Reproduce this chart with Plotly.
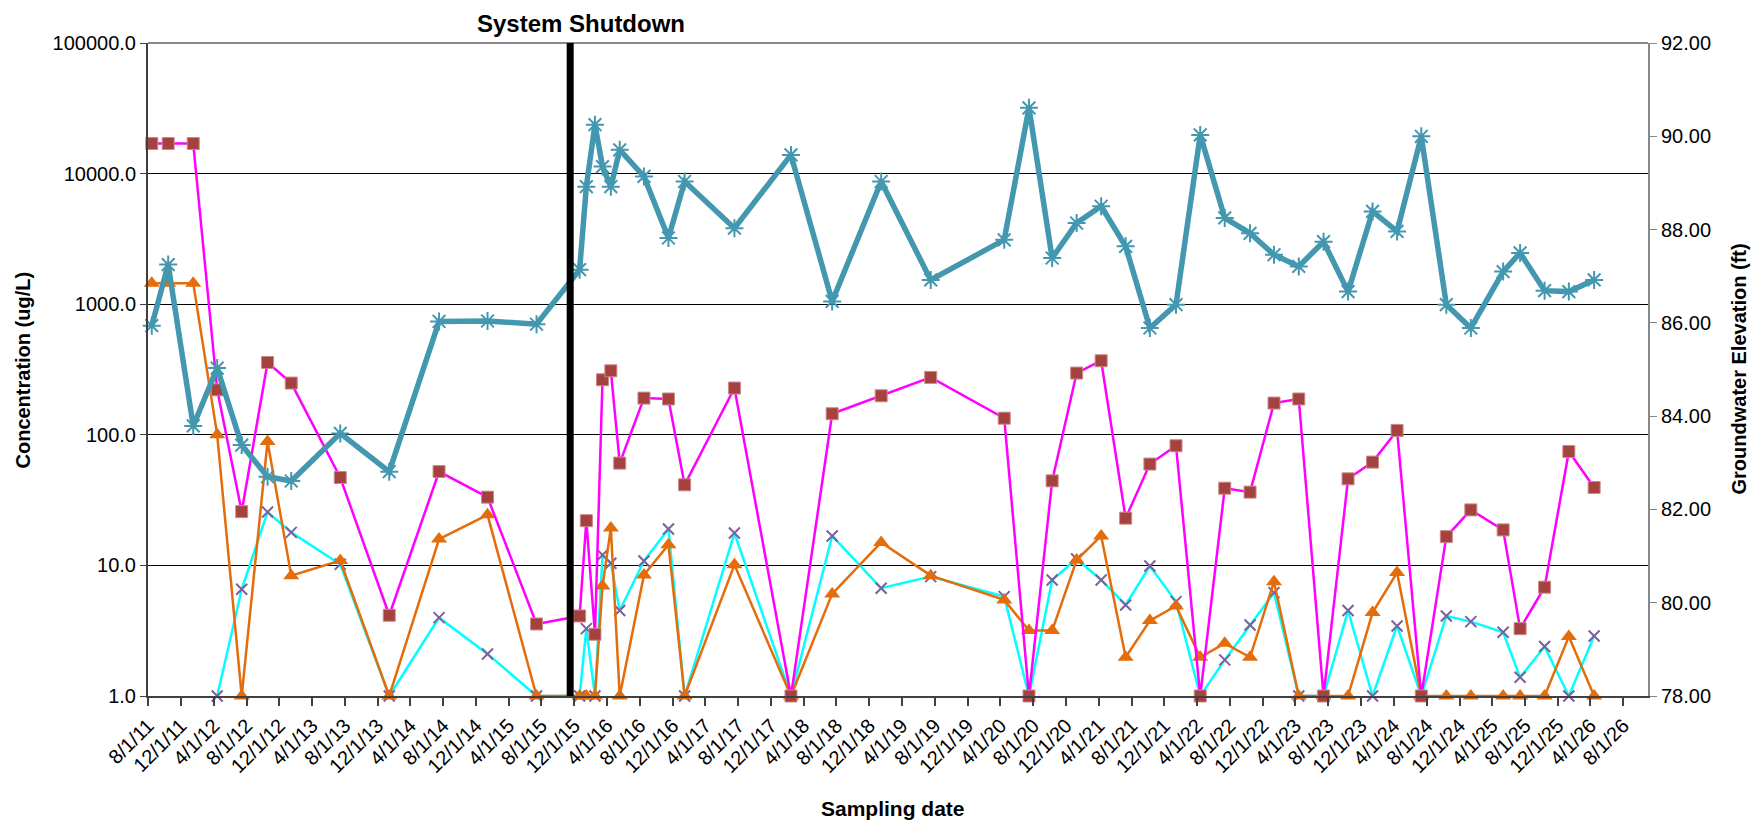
import plotly.graph_objects as go

# ---- data ----
dates = [
    "2011-08-15", "2011-10-15", "2012-01-16", "2012-04-14", "2012-07-14", "2012-10-18",
    "2013-01-14", "2013-07-15", "2014-01-13", "2014-07-17", "2015-01-13", "2015-07-14",
    "2015-12-21", "2016-01-15", "2016-02-16", "2016-03-15", "2016-04-15", "2016-05-18",
    "2016-08-16", "2016-11-15", "2017-01-14", "2017-07-18", "2018-02-13", "2018-07-16",
    "2019-01-14", "2019-07-17", "2020-04-15", "2020-07-16", "2020-10-10", "2021-01-09",
    "2021-04-10", "2021-07-10", "2021-10-08", "2022-01-13", "2022-04-13", "2022-07-13",
    "2022-10-15", "2023-01-12", "2023-04-14", "2023-07-15", "2023-10-14", "2024-01-13",
    "2024-04-13", "2024-07-12", "2024-10-13", "2025-01-12", "2025-05-12", "2025-07-14",
    "2025-10-13", "2026-01-11", "2026-04-15",
]

groundwater_elev = [
    85.94, 87.25, 83.79, 85.03, 83.38, 82.70, 82.61, 83.63, 82.81, 86.03, 86.04, 85.97,
    87.14, 88.92, 90.25, 89.35, 88.92, 89.71, 89.14, 87.82, 89.03, 88.03, 89.60, 86.46,
    89.03, 86.92, 87.78, 90.61, 87.39, 88.14, 88.50, 87.64, 85.89, 86.39, 90.03, 88.25,
    87.92, 87.46, 87.21, 87.74, 86.67, 88.39, 87.96, 90.00, 86.39, 85.89, 87.10, 87.50,
    86.69, 86.67, 86.92,
]

magenta_conc = [
    17000, 17000, 17000, 221, 25.8, 358, 249, 47.1, 4.15, 52.3, 33.3, 3.56,
    4.10, 22.0, 2.97, 264, 309, 60.7, 191, 188, 41.4, 228, 1.0, 145,
    199, 275, 134, 1.0, 44.4, 297, 369, 23.0, 59.7, 82.4, 1.0, 39.0,
    36.4, 175, 188, 1.0, 46.0, 61.8, 108, 1.0, 16.6, 26.6, 18.7, 3.28,
    6.81, 74.5, 39.5,
]

cyan_conc = [
    None, None, None, 1.0, 6.57, 25.6, 17.9, 10.2, 1.0, 3.98, 2.10, 1.0,
    1.0, 3.28, 1.0, 12.0, 10.4, 4.51, 10.8, 19.0, 1.0, 17.7, 1.0, 16.8,
    6.69, 8.21, 5.77, 1.0, 7.74, 11.2, 7.74, 4.98, 9.9, 5.28, 1.0, 1.89,
    3.50, 6.19, 1.0, 1.0, 4.51, 1.0, 3.44, 1.0, 4.10, 3.71, 3.08, 1.39,
    2.39, 1.0, 2.88,
]

orange_conc = [
    1450, 1450, 1450, 100, 1.0, 88.9, 8.35, 10.9, 1.0, 15.9, 24.4, 1.0,
    1.0, 1.0, 1.0, 6.96, 19.3, 1.0, 8.46, 14.4, 1.0, 10.1, 1.0, 6.05,
    15.0, 8.35, 5.44, 3.17, 3.17, 11.0, 16.8, 1.98, 3.78, 4.89, 1.98, 2.53,
    1.98, 7.51, 1.0, 1.0, 1.0, 4.35, 8.81, 1.0, 1.0, 1.0, 1.0, 1.0,
    1.0, 2.85, 1.0,
]

conc_tickvals = [1, 10, 100, 1000, 10000, 100000]
conc_ticktext = ["1.0", "10.0", "100.0", "1000.0", "10000.0", "100000.0"]
shutdown_date = "2015-11-16"
x_range = ["2011-08-01", "2026-11-01"]

FONT = "Liberation Sans, Arial, sans-serif"

# page body has an 8px default margin; compensate so the plot area lands
# at x 148..1648, y 43..696 of the window
OFF = 8
FIG_W, FIG_H = 1760 - OFF, 825 - OFF
L, R, T, B = 148 - OFF, 112, 43 - OFF, 129
PW, PH = 1500, 653

fig = go.Figure()

fig.add_trace(go.Scatter(
    x=dates, y=cyan_conc, mode="lines+markers", name="cyan",
    line=dict(color="#00FFFF", width=2.5),
    marker=dict(symbol="x-thin-open", size=11, line=dict(color="#7D5F9B", width=2), color="#7D5F9B"),
    cliponaxis=False, connectgaps=False,
))
fig.add_trace(go.Scatter(
    x=dates, y=orange_conc, mode="lines+markers", name="orange",
    line=dict(color="#E46C0A", width=2.5),
    marker=dict(symbol="triangle-up", size=14, color="#E46C0A"),
    cliponaxis=False,
))
fig.add_trace(go.Scatter(
    x=dates, y=magenta_conc, mode="lines+markers", name="magenta",
    line=dict(color="#FF00FF", width=2.5),
    marker=dict(symbol="square", size=12, color="#A5423F", line=dict(color="#C98A88", width=1)),
    cliponaxis=False,
))
fig.add_trace(go.Scatter(
    x=dates, y=groundwater_elev, mode="lines+markers", name="Groundwater Elevation",
    yaxis="y2",
    line=dict(color="#4398B0", width=5.5),
    marker=dict(symbol="asterisk-open", size=15, line=dict(color="#4398B0", width=2), color="#4398B0"),
    cliponaxis=False,
))

fig.update_layout(
    width=FIG_W, height=FIG_H, autosize=False,
    paper_bgcolor="white", plot_bgcolor="white",
    margin=dict(l=L, r=R, t=T, b=B),
    showlegend=False,
    font=dict(family=FONT, size=20, color="black"),
    xaxis=dict(
        type="date", range=x_range, tick0="2011-08-01", dtick="M4",
        tickformat="%-m/%-d/%y", tickangle=-45,
        ticks="outside", ticklen=8, tickwidth=1.5, tickcolor="#404040",
        showline=True, linecolor="#404040", linewidth=2,
        showgrid=False, zeroline=False,
        tickfont=dict(family=FONT, size=20, color="black"),
    ),
    yaxis=dict(
        type="log", range=[0, 5],
        tickvals=conc_tickvals, ticktext=conc_ticktext,
        ticks="outside", ticklen=6, tickcolor="#404040",
        showline=True, linecolor="#404040", linewidth=2,
        showgrid=True, gridcolor="black", gridwidth=1,
        zeroline=False,
        tickfont=dict(family=FONT, size=20, color="black"),
    ),
    yaxis2=dict(
        overlaying="y", side="right", range=[78, 92], dtick=2, tick0=78,
        tickformat=".2f",
        ticks="outside", ticklen=7, tickcolor="#888888",
        showline=True, linecolor="#888888", linewidth=2,
        showgrid=False, zeroline=False,
        tickfont=dict(family=FONT, size=20, color="black"),
    ),
    shapes=[
        dict(type="line", xref="paper", yref="paper", x0=0, x1=1, y0=1, y1=1,
             line=dict(color="#888888", width=2)),
        dict(type="line", xref="x", yref="paper", x0=shutdown_date, x1=shutdown_date,
             y0=0, y1=1, line=dict(color="black", width=7)),
    ],
    annotations=[
        dict(text="<b>System Shutdown</b>", xref="paper", yref="paper",
             x=(581 - 148) / PW, y=1 + T / PH, xanchor="center", yanchor="top",
             showarrow=False, font=dict(family=FONT, size=24, color="black")),
        dict(text="<b>Concentration (ug/L)</b>", xref="paper", yref="paper",
             x=(22 - 148) / PW, y=0.5, xanchor="center", yanchor="middle",
             textangle=-90, showarrow=False, font=dict(family=FONT, size=20, color="black")),
        dict(text="<b>Groundwater Elevation (ft)</b>", xref="paper", yref="paper",
             x=(1738 - 148) / PW, y=0.5, xanchor="center", yanchor="middle",
             textangle=-90, showarrow=False, font=dict(family=FONT, size=20, color="black")),
        dict(text="<b>Sampling date</b>", xref="paper", yref="paper",
             x=(893 - 148) / PW, y=(696 - 808) / PH, xanchor="center", yanchor="middle",
             showarrow=False, font=dict(family=FONT, size=21, color="black")),
    ],
)

fig.write_html("out.html")
